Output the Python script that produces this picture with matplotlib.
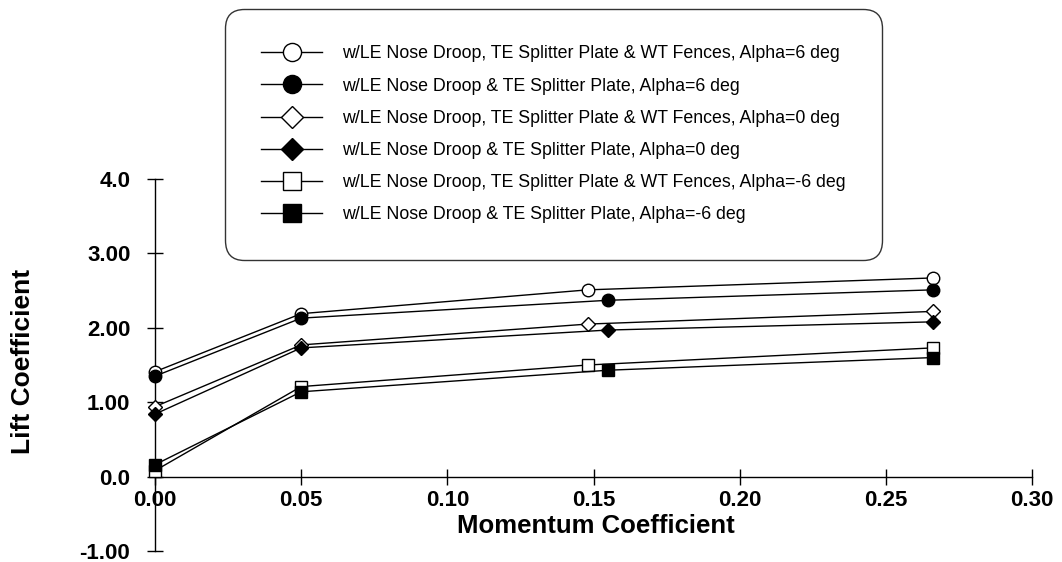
import numpy as np
import matplotlib
matplotlib.use("Agg")
import matplotlib.pyplot as plt
from matplotlib.ticker import FixedLocator, FixedFormatter

plt.rcParams['font.family'] = ['Liberation Sans', 'DejaVu Sans']

# momentum coefficient (open = with WT fences, filled = without)
cmu_open = [0.0, 0.05, 0.148, 0.266]
cmu_fill = [0.0, 0.05, 0.155, 0.266]

# lift coefficient
cl_fence_a6 = [1.41, 2.19, 2.51, 2.67]
cl_nofence_a6 = [1.35, 2.13, 2.37, 2.51]
cl_fence_a0 = [0.94, 1.77, 2.05, 2.22]
cl_nofence_a0 = [0.84, 1.73, 1.97, 2.08]
cl_fence_am6 = [0.08, 1.21, 1.50, 1.73]
cl_nofence_am6 = [0.16, 1.14, 1.43, 1.60]

labels = [
    "w/LE Nose Droop, TE Splitter Plate & WT Fences, Alpha=6 deg",
    "w/LE Nose Droop & TE Splitter Plate, Alpha=6 deg",
    "w/LE Nose Droop, TE Splitter Plate & WT Fences, Alpha=0 deg",
    "w/LE Nose Droop & TE Splitter Plate, Alpha=0 deg",
    "w/LE Nose Droop, TE Splitter Plate & WT Fences, Alpha=-6 deg",
    "w/LE Nose Droop & TE Splitter Plate, Alpha=-6 deg",
]

yticks = [-1, 0, 1, 2, 3, 4]
ytick_labels = ["-1.00", "0.0", "1.00", "2.00", "3.00", "4.0"]
xticks = [0.0, 0.05, 0.10, 0.15, 0.20, 0.25, 0.30]
xtick_labels = ["0.00", "0.05", "0.10", "0.15", "0.20", "0.25", "0.30"]

series = [
    (cmu_open, cl_fence_a6, 'o', 'white'),
    (cmu_fill, cl_nofence_a6, 'o', 'black'),
    (cmu_open, cl_fence_a0, 'D', 'white'),
    (cmu_fill, cl_nofence_a0, 'D', 'black'),
    (cmu_open, cl_fence_am6, 's', 'white'),
    (cmu_fill, cl_nofence_am6, 's', 'black'),
]

fig = plt.figure(figsize=(10.62, 5.62), dpi=100)
ax = fig.add_axes([155/1062, 11/562, 877/1062, 372/562])

for (x, y, m, fc), lab in zip(series, labels):
    ms = 7.5 if m == 'D' else 9
    ax.plot(x, y, color='black', lw=1.0, marker=m, markersize=ms,
            markerfacecolor=fc, markeredgecolor='black', markeredgewidth=1.0,
            label=lab, clip_on=False, zorder=3)

ax.set_xlim(0, 0.30)
ax.set_ylim(-1, 4)

# axes: y axis on the left, x axis through zero, no box
ax.spines['top'].set_visible(False)
ax.spines['right'].set_visible(False)
ax.spines['bottom'].set_position(('data', 0))
ax.spines['left'].set_linewidth(1.0)
ax.spines['bottom'].set_linewidth(1.0)

ax.xaxis.set_major_locator(FixedLocator(xticks))
ax.xaxis.set_major_formatter(FixedFormatter(xtick_labels))
ax.yaxis.set_major_locator(FixedLocator(yticks))
ax.yaxis.set_major_formatter(FixedFormatter(ytick_labels))

ax.tick_params(axis='x', direction='inout', length=11, width=1.0, pad=4.5,
               labelsize=16)
ax.tick_params(axis='y', direction='inout', length=11.5, width=1.0, pad=12,
               labelsize=16)
for t in ax.get_xticklabels() + ax.get_yticklabels():
    t.set_fontweight('bold')

ax.set_xlabel("Momentum Coefficient", fontsize=18.5, fontweight='bold', va='center')
ax.xaxis.set_label_coords(0.503, (552 - 527) / 372)
ax.set_ylabel("Lift Coefficient", fontsize=19, fontweight='bold', va='center')
ax.yaxis.set_label_coords((23 - 155) / 877, 0.51)

leg = ax.legend(loc='upper left', bbox_to_anchor=(225/1062, 1 - 9/562),
                bbox_transform=fig.transFigure, borderaxespad=0,
                fontsize=12.75, markerscale=1.45, handlelength=3.45,
                handletextpad=1.13, labelspacing=0.86, borderpad=2.05,
                frameon=True, fancybox=True)
frame = leg.get_frame()
frame.set_edgecolor('black')
frame.set_linewidth(1.0)
frame.set_boxstyle('round', pad=0, rounding_size=1.1)

fig.savefig("out.png", dpi=100)
